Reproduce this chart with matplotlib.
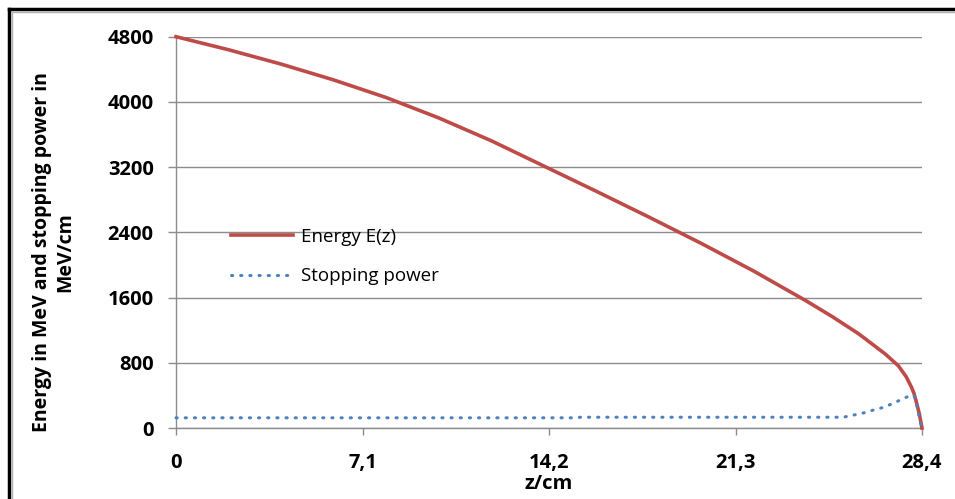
import matplotlib
matplotlib.use('Agg')
import matplotlib.pyplot as plt
from matplotlib.lines import Line2D

# depth (cm) and beam energy (MeV)
depth_energy = [0, 2, 4, 6, 8, 10, 12, 14, 16, 18, 20, 22, 24, 25, 26, 27,
                27.5, 27.8, 28.0, 28.1, 28.2, 28.3, 28.4]
energy = [4800, 4640, 4464, 4270, 4054, 3804, 3524, 3214, 2904, 2588, 2264,
          1924, 1558, 1363, 1153, 908, 763, 628, 500, 420, 300, 170, 0]

# depth (cm) and stopping power (MeV/cm)
depth_sp = [0, 5, 10, 15.2, 15.4, 20, 25.4, 25.8, 26.2, 26.55, 26.93, 27.3,
            27.7, 28.0, 28.1, 28.2, 28.3, 28.4]
stopping = [125, 125, 125, 125, 132, 132, 132, 159, 187, 220, 253, 302,
            363, 404, 395, 280, 120, 0]

x_ticks = [0, 7.1, 14.2, 21.3, 28.4]
x_ticklabels = ['0', '7,1', '14,2', '21,3', '28,4']
y_ticks = [0, 800, 1600, 2400, 3200, 4000, 4800]

plt.rcParams['font.family'] = ['Open Sans', 'DejaVu Sans']

fig = plt.figure(figsize=(9.55, 4.99), dpi=100)
ax = fig.add_axes([176 / 955, 1 - 428 / 499, 746 / 955, (428 - 36.7) / 499])

grid_col = '#8c8c8c'
ax.plot(depth_energy, energy, color='#BE4B48', lw=2.6, label='Energy E(z)',
        clip_on=False, zorder=3)
ax.plot(depth_sp, stopping, color='#4F81BD', lw=2.2,
        linestyle=(0, (0.4, 2.6)), dash_capstyle='round',
        label='Stopping power', clip_on=False, zorder=4)

ax.set_xlim(0, 28.4)
ax.set_ylim(0, 4800)
ax.set_xticks(x_ticks)
ax.set_xticklabels(x_ticklabels)
ax.set_yticks(y_ticks)

for s in ('top', 'right'):
    ax.spines[s].set_visible(False)
for s in ('left', 'bottom'):
    ax.spines[s].set_color(grid_col)
    ax.spines[s].set_linewidth(1.0)

ax.yaxis.grid(True, color=grid_col, lw=1.0)
ax.set_axisbelow(True)
ax.tick_params(axis='y', length=6, width=1, color=grid_col, pad=10,
               labelsize=14.5)
ax.tick_params(axis='x', length=5, width=1, color=grid_col, pad=13,
               labelsize=14.5)
for lab in ax.get_xticklabels() + ax.get_yticklabels():
    lab.set_fontweight('bold')

ax.set_xlabel('z/cm', fontsize=14.5, fontweight='bold', labelpad=1)
ax.set_ylabel('Energy in MeV and stopping power in\nMeV/cm', fontsize=14,
              fontweight='bold', linespacing=1.2)
ax.yaxis.set_label_coords(-0.135, 0.45)

ax.legend(loc='upper left', bbox_to_anchor=(0.051, 0.555), frameon=False,
          fontsize=13.5, handlelength=3.3, handletextpad=0.45,
          labelspacing=1.15)

# outer frame (left and top edges)
for xs, ys, c, w in [([9, 9], [0, 490], 'black', 2.5),
                     ([9, 955], [490, 490], 'black', 2.5),
                     ([12, 12], [0, 487], '#b0b0b0', 1.0),
                     ([12, 955], [487, 487], '#b0b0b0', 1.0)]:
    fig.add_artist(Line2D([x / 955 for x in xs], [y / 499 for y in ys],
                          color=c, lw=w, transform=fig.transFigure))

fig.savefig('out.png', dpi=100)
